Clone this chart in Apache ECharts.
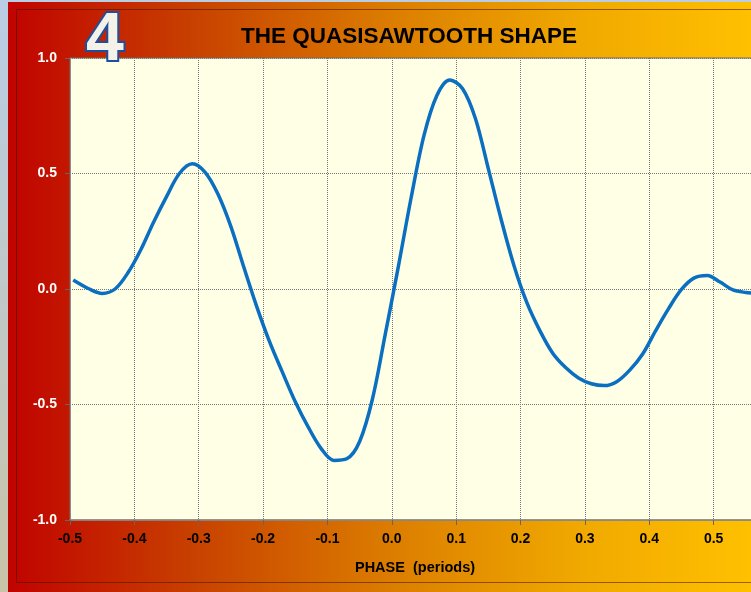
<!DOCTYPE html>
<html>
<head>
<meta charset="utf-8">
<script src="https://cdn.jsdelivr.net/npm/echarts@6/dist/echarts.min.js"></script>
<style>
  html, body { margin: 0; padding: 0; overflow: hidden; }
  /* the picture is cut off on the right, so the chart is wider than the window */
  #chart { width: 790px; height: 592px; }
</style>
</head>
<body>
<div id="chart"></div>
<script>
// phase (periods), evenly spaced samples
var phase = [-0.495, -0.47, -0.45, -0.43, -0.41, -0.39, -0.37, -0.35, -0.33, -0.31,
  -0.29, -0.27, -0.25, -0.23, -0.21, -0.19, -0.17, -0.15, -0.13, -0.11,
  -0.09, -0.07, -0.05, -0.03, -0.01, 0.01, 0.03, 0.05, 0.07, 0.09,
  0.11, 0.13, 0.15, 0.17, 0.19, 0.21, 0.23, 0.25, 0.27, 0.29,
  0.31, 0.33, 0.35, 0.37, 0.39, 0.41, 0.43, 0.45, 0.47, 0.49,
  0.51, 0.53, 0.55, 0.57];
// amplitude of the quasisawtooth
var amplitude = [0.039, 0.000, -0.019, 0.000, 0.070, 0.170, 0.290, 0.400, 0.500, 0.542,
  0.505, 0.410, 0.270, 0.095, -0.075, -0.228, -0.360, -0.488, -0.597, -0.690,
  -0.742, -0.735, -0.660, -0.475, -0.193, 0.095, 0.395, 0.665, 0.838, 0.905,
  0.867, 0.737, 0.520, 0.300, 0.100, -0.060, -0.180, -0.278, -0.340, -0.385,
  -0.410, -0.418, -0.400, -0.350, -0.280, -0.180, -0.085, -0.002, 0.048, 0.058,
  0.030, -0.004, -0.015, -0.020];
var xTicks = [-0.5, -0.4, -0.3, -0.2, -0.1, 0.0, 0.1, 0.2, 0.3, 0.4, 0.5];
var yTicks = [-1.0, -0.5, 0.0, 0.5, 1.0];

var points = phase.map(function (p, i) { return [p, amplitude[i]]; });

var myChart = echarts.init(document.getElementById("chart"));
var font = "Liberation Sans";

myChart.setOption({
  animation: false,
  backgroundColor: {
    type: "linear", x: 0, y: 0, x2: 1, y2: 0,
    colorStops: [
      { offset: 0, color: "#C00000" },
      { offset: 0.25, color: "#C84200" },
      { offset: 0.5, color: "#DC7E00" },
      { offset: 0.73, color: "#F0A800" },
      { offset: 0.95, color: "#FFC000" },
      { offset: 1, color: "#FFC000" }
    ]
  },
  graphic: [
    // slide edge on the left and top
    { type: "rect", shape: { x: 0, y: 0, width: 8, height: 592 }, z: 0,
      style: { fill: { type: "linear", x: 0, y: 0, x2: 0, y2: 1,
        colorStops: [{ offset: 0, color: "#B9CDE5" }, { offset: 1, color: "#C8C3A8" }] } } },
    { type: "rect", shape: { x: 0, y: 0, width: 790, height: 2 }, z: 0,
      style: { fill: "#B9CDE5" } },
    // chart frame
    { type: "rect", shape: { x: 16.5, y: 9.5, width: 800, height: 573 }, z: 0,
      style: { fill: "none", stroke: "rgba(70,20,0,0.55)", lineWidth: 1 } },
    // big digit
    { type: "text", left: 84, top: 5, z: 10,
      style: { text: "4", font: "bold 68px " + font, fill: "#F3F1E8",
        stroke: "#1E4F9C", lineWidth: 4,
        shadowColor: "rgba(0,0,0,0.35)", shadowBlur: 3, shadowOffsetX: 2, shadowOffsetY: 2 } }
  ],
  title: {
    text: "THE QUASISAWTOOTH SHAPE",
    left: 404, top: 20, textAlign: "center",
    textStyle: { fontFamily: font, fontWeight: "bold", fontSize: 22.5, color: "#000" }
  },
  grid: {
    left: 70, top: 58, right: 12, bottom: 72,
    show: true, backgroundColor: "#FFFFE6", borderColor: "#6f6a60", borderWidth: 1
  },
  xAxis: {
    type: "value", min: -0.5, max: 0.6, interval: 0.1,
    name: "PHASE  (periods)", nameLocation: "middle", nameGap: 40,
    nameTextStyle: { fontFamily: font, fontWeight: "bold", fontSize: 14.5, color: "#000", padding: [0, 18, 0, 0] },
    axisLine: { show: true, onZero: false, lineStyle: { color: "#8c8c8c", width: 1.5 } },
    axisTick: { show: true, length: 5, lineStyle: { color: "#666" } },
    axisLabel: { margin: 12, fontFamily: font, fontWeight: "bold", fontSize: 14, color: "#000",
      formatter: function (v) { return xTicks.indexOf(Math.round(v * 10) / 10) >= 0 ? v.toFixed(1) : ""; } },
    splitLine: { show: true, lineStyle: { color: "#777", type: "dotted", width: 1 } }
  },
  yAxis: {
    type: "value", min: -1, max: 1, interval: 0.5,
    axisLine: { show: true, onZero: false, lineStyle: { color: "#8c8c8c", width: 1 } },
    axisTick: { show: true, length: 5, lineStyle: { color: "#666" } },
    axisLabel: { margin: 13, fontFamily: font, fontWeight: "bold", fontSize: 14, color: "#fff",
      formatter: function (v) { return yTicks.indexOf(v) >= 0 ? v.toFixed(1) : ""; } },
    splitLine: { show: true, lineStyle: { color: "#777", type: "dotted", width: 1 } }
  },
  series: [
    {
      type: "line",
      data: points,
      smooth: 0.33,
      showSymbol: false,
      clip: true,
      lineStyle: { color: "#0A6FC0", width: 3.5 }
    }
  ]
});
</script>
</body>
</html>
